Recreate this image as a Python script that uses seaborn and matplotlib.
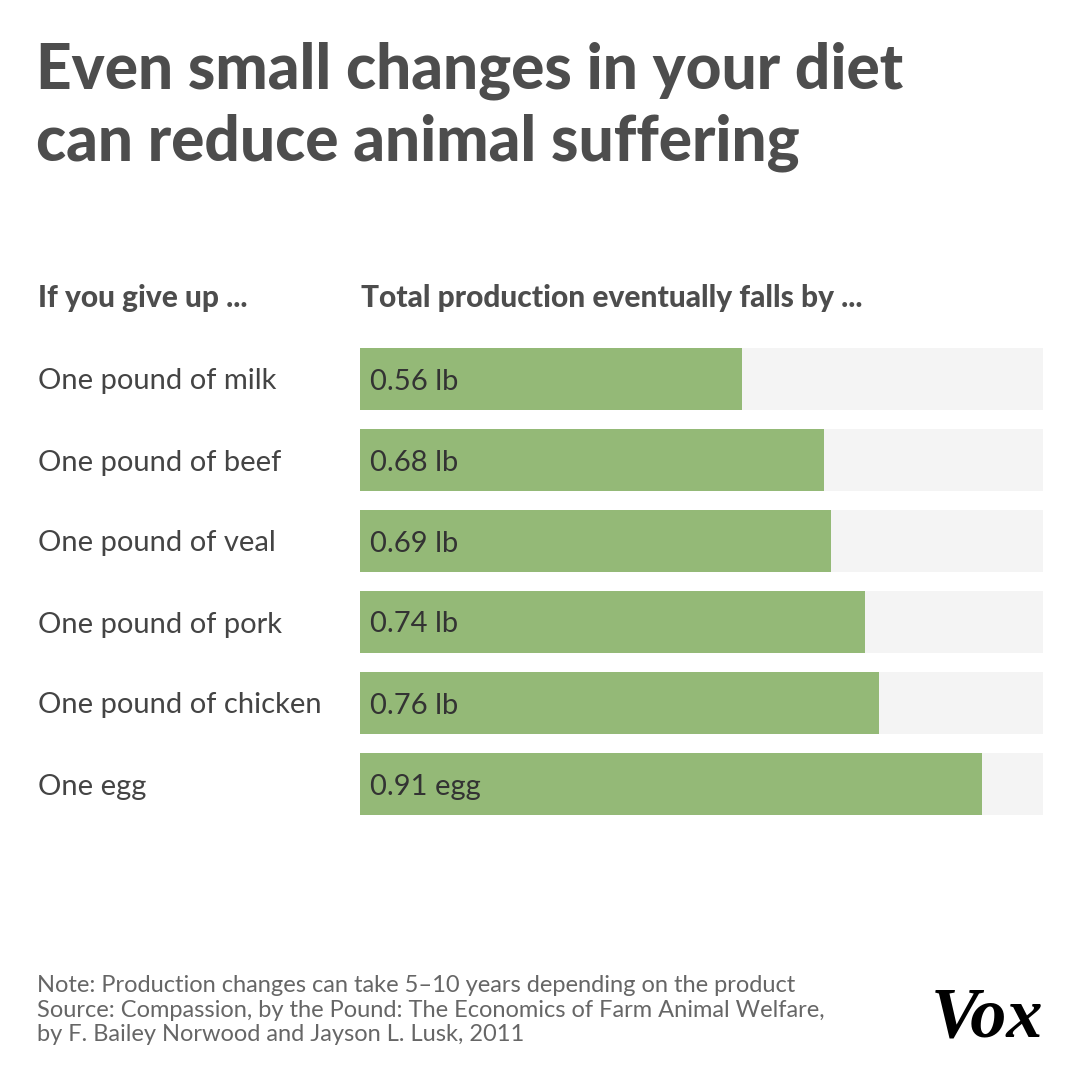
import matplotlib
matplotlib.use("Agg")
import matplotlib.pyplot as plt
import seaborn as sns
import pandas as pd

categories = ["One pound of milk", "One pound of beef", "One pound of veal",
              "One pound of pork", "One pound of chicken", "One egg"]
values = [0.56, 0.68, 0.69, 0.74, 0.76, 0.91]
units = ["lb", "lb", "lb", "lb", "lb", "egg"]
full = [1.0] * len(categories)

title_lines = ["Even small changes in your diet", "can reduce animal suffering"]
left_header = "If you give up ..."
right_header = "Total production eventually falls by ..."
footer_lines = ["Note: Production changes can take 5\u201310 years depending on the product",
                "Source: Compassion, by the Pound: The Economics of Farm Animal Welfare,",
                "by F. Bailey Norwood and Jayson L. Lusk, 2011"]

sns.set_theme(style="white")
plt.rcParams['font.family'] = ['Lato', 'DejaVu Sans']

df = pd.DataFrame({"item": categories, "value": values, "full": full, "unit": units})

W = H = 1080
fig = plt.figure(figsize=(10.8, 10.8), dpi=100)
fig.patch.set_facecolor("white")

def fy(px):
    return 1 - px / H

ax_left, ax_right = 360 / W, 1043 / W
ax_top_px, ax_bot_px = 338.5, 824.5
ax = fig.add_axes([ax_left, fy(ax_bot_px), ax_right - ax_left, (ax_bot_px - ax_top_px) / H])

bw = 62 / 81
sns.barplot(data=df, y="item", x="full", orient="h", color="#f4f4f4",
            width=bw, ax=ax, saturation=1, linewidth=0)
sns.barplot(data=df, y="item", x="value", orient="h", color="#94b977",
            width=bw, ax=ax, saturation=1, linewidth=0)
ax.set_xlim(0, 1)
ax.set_ylim(len(categories) - 0.5, -0.5)
ax.axis("off")

for i, (v, u) in enumerate(zip(values, units)):
    base_px = ax_top_px + 40.5 + 81 * i + 10.5
    fig.text(370 / W, fy(base_px), f"{v:.2f} {u}", va="baseline", ha="left",
             fontsize=21, color="#333333")

for i, c in enumerate(categories):
    base_px = ax_top_px + 40.5 + 81 * i + 10.5
    fig.text(38 / W, fy(base_px), c, va="baseline", ha="left",
             fontsize=21, color="#444444")

for line, base in zip(title_lines, [88, 160]):
    fig.text(36 / W, fy(base), line, ha="left", va="baseline",
             fontsize=44.7, fontweight=900, color="#4d4d4d")

fig.text(38 / W, fy(307), left_header, ha="left", va="baseline",
         fontsize=21.5, fontweight=900, color="#4d4d4d")
fig.text(361 / W, fy(307), right_header, ha="left", va="baseline",
         fontsize=21.5, fontweight=900, color="#4d4d4d")

for line, base in zip(footer_lines, [992, 1017, 1041]):
    fig.text(37 / W, fy(base), line, ha="left", va="baseline",
             fontsize=17, color="#666666")

fig.text(1043 / W, fy(1037), "Vox", ha="right", va="baseline",
         fontsize=52, fontweight="bold", fontstyle="italic",
         family=["Liberation Serif", "DejaVu Serif"], color="black")

fig.savefig("out.png", dpi=100, facecolor="white")
